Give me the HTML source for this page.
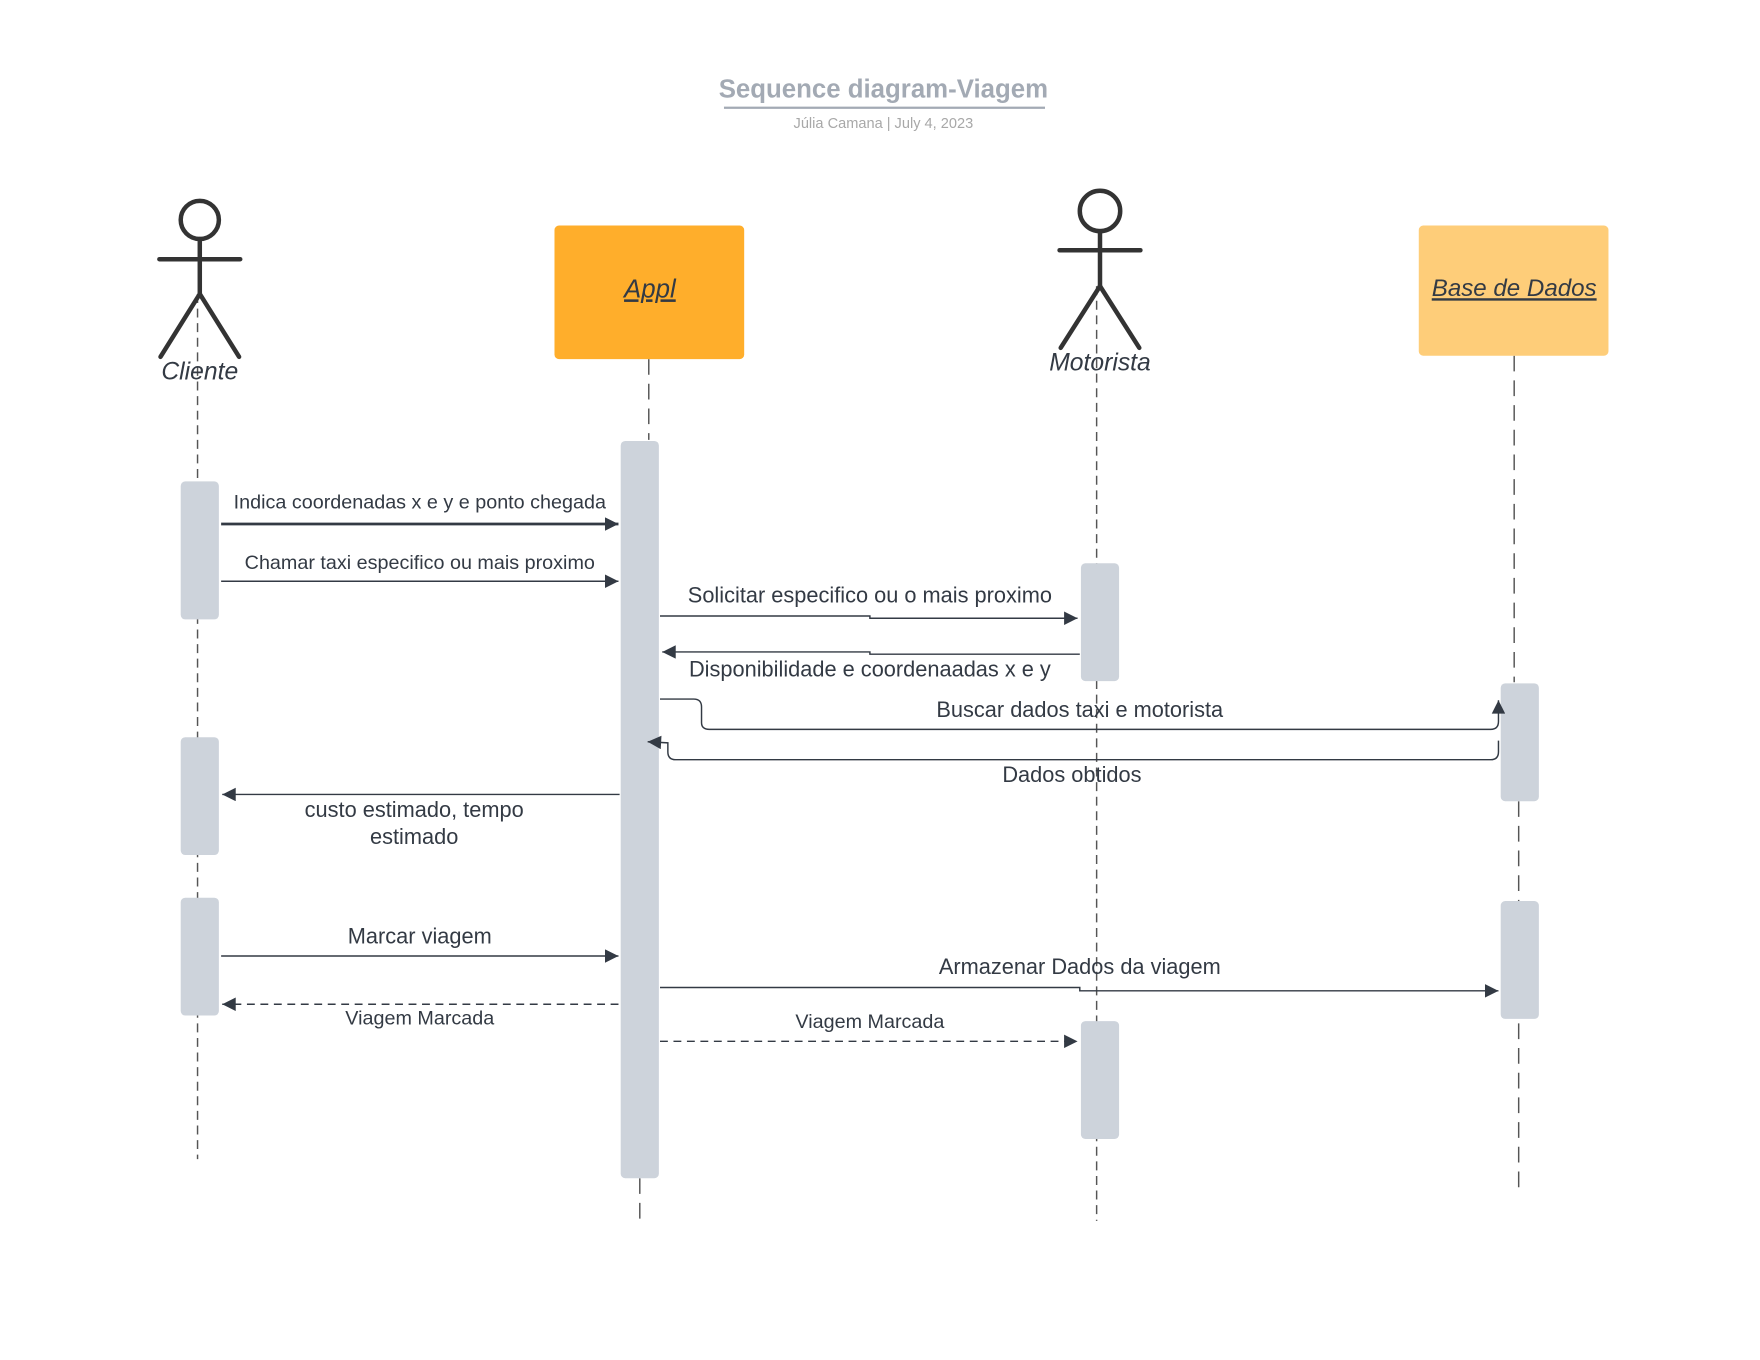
<!DOCTYPE html>
<html><head><meta charset="utf-8"><style>
html,body{margin:0;padding:0;background:#fff;width:1760px;height:1360px;overflow:hidden}
svg{display:block}
text{font-family:"Liberation Sans",sans-serif;fill:#333a44}
</style></head><body>
<svg width="1760" height="1360" viewBox="0 0 1568 1212" preserveAspectRatio="none" xmlns="http://www.w3.org/2000/svg">
<defs>
<marker id="b" viewBox="0 0 10 10" refX="10" refY="5" markerWidth="14" markerHeight="12" orient="auto" markerUnits="userSpaceOnUse"><path d="M0,0 L10,5 L0,10 z" fill="#333a44"/></marker>
</defs>
<rect width="1568" height="1212" fill="#fff"/>
<!-- title -->
<text x="787" y="87" text-anchor="middle" font-size="23" font-weight="bold" style="fill:#a3aab4">Sequence diagram-Viagem</text>
<line x1="645" y1="96" x2="931" y2="96" stroke="#a3aab4" stroke-width="2"/>
<text x="787" y="114" text-anchor="middle" font-size="13" style="fill:#a8a8a8">Júlia Camana  |  July 4, 2023</text>

<!-- lifelines -->
<g stroke="#555" stroke-width="1.3" stroke-dasharray="8,5" fill="none">
<line x1="176" y1="262" x2="176" y2="1033"/>
<line x1="977" y1="255" x2="977" y2="1088"/>
</g>
<g stroke="#555" stroke-width="1.3" stroke-dasharray="14,8" fill="none">
<line x1="578" y1="320" x2="578" y2="392"/>
<line x1="570" y1="1050" x2="570" y2="1088"/>
<line x1="1349" y1="317" x2="1349" y2="608"/>
<line x1="1353" y1="714" x2="1353" y2="1060"/>
</g>

<!-- Cliente actor -->
<g stroke="#333" stroke-width="4" fill="none" stroke-linecap="round">
<circle cx="178" cy="196" r="17" fill="#fff"/>
<line x1="178" y1="213" x2="178" y2="262"/>
<line x1="142" y1="231" x2="214" y2="231"/>
<line x1="178" y1="262" x2="143" y2="318"/>
<line x1="178" y1="262" x2="213" y2="318"/>
</g>
<text x="178" y="338" text-anchor="middle" font-size="22" font-style="italic">Cliente</text>

<!-- Motorista actor -->
<g stroke="#333" stroke-width="4" fill="none" stroke-linecap="round">
<circle cx="980" cy="188" r="18" fill="#fff"/>
<line x1="980" y1="206" x2="980" y2="255"/>
<line x1="944" y1="223" x2="1016" y2="223"/>
<line x1="980" y1="255" x2="945" y2="310"/>
<line x1="980" y1="255" x2="1015" y2="310"/>
</g>
<text x="980" y="330" text-anchor="middle" font-size="22" font-style="italic">Motorista</text>

<!-- boxes -->
<rect x="494" y="201" width="169" height="119" rx="4" fill="#ffae2b"/>
<text x="579" y="265" text-anchor="middle" font-size="23" font-style="italic" text-decoration="underline">Appl</text>
<rect x="1264" y="201" width="169" height="116" rx="4" fill="#fecd79"/>
<text x="1349" y="264" text-anchor="middle" font-size="21.5" font-style="italic" text-decoration="underline">Base de Dados</text>

<!-- activations -->
<g fill="#cdd3db">
<rect x="553" y="393" width="34" height="657" rx="4"/>
<rect x="161" y="429" width="34" height="123" rx="4"/>
<rect x="161" y="657" width="34" height="105" rx="4"/>
<rect x="161" y="800" width="34" height="105" rx="4"/>
<rect x="963" y="502" width="34" height="105" rx="4"/>
<rect x="963" y="910" width="34" height="105" rx="4"/>
<rect x="1337" y="609" width="34" height="105" rx="4"/>
<rect x="1337" y="803" width="34" height="105" rx="4"/>
</g>

<!-- messages -->
<g stroke="#333a44" fill="none" stroke-width="1.3">
<line x1="197" y1="467" x2="551" y2="467" stroke-width="2.5" marker-end="url(#b)"/>
<line x1="197" y1="518" x2="551" y2="518" marker-end="url(#b)"/>
<polyline points="588,549 775,549 775,551 960,551" marker-end="url(#b)"/>
<polyline points="962,583 775,583 775,581 590,581" marker-end="url(#b)"/>
<path d="M588,623 L618,623 Q625,623 625,630 L625,644 Q625,650 632,650 L1328,650 Q1335,650 1335,643 L1335,624" marker-end="url(#b)"/>
<path d="M1335,660 L1335,670 Q1335,677 1328,677 L602,677 Q595,677 595,670 L595,662 L577,661" marker-end="url(#b)"/>
<line x1="552" y1="708" x2="198" y2="708" marker-end="url(#b)"/>
<line x1="197" y1="852" x2="551" y2="852" marker-end="url(#b)"/>
<line x1="551" y1="895" x2="198" y2="895" stroke-dasharray="7,5" marker-end="url(#b)"/>
<polyline points="588,880 962,880 962,883 1335,883" marker-end="url(#b)"/>
<line x1="588" y1="928" x2="960" y2="928" stroke-dasharray="7,5" marker-end="url(#b)"/>
</g>

<!-- labels -->
<g font-size="17.6" text-anchor="middle">
<text x="374" y="453">Indica coordenadas x e y e ponto chegada</text>
<text x="374" y="507">Chamar taxi especifico ou mais proximo</text>
<text x="775" y="537" font-size="19.4">Solicitar especifico ou o mais proximo</text>
<text x="775" y="603" font-size="19.4">Disponibilidade e coordenaadas x e y</text>
<text x="962" y="639" font-size="19.4">Buscar dados taxi e motorista</text>
<text x="955" y="697" font-size="19.4">Dados obtidos</text>
<text x="369" y="728" font-size="19.4">custo estimado, tempo</text>
<text x="369" y="752" font-size="19.4">estimado</text>
<text x="374" y="841" font-size="19.4">Marcar viagem</text>
<text x="374" y="913">Viagem Marcada</text>
<text x="962" y="868" font-size="19.4">Armazenar Dados da viagem</text>
<text x="775" y="916">Viagem Marcada</text>
</g>
</svg>
</body></html>
